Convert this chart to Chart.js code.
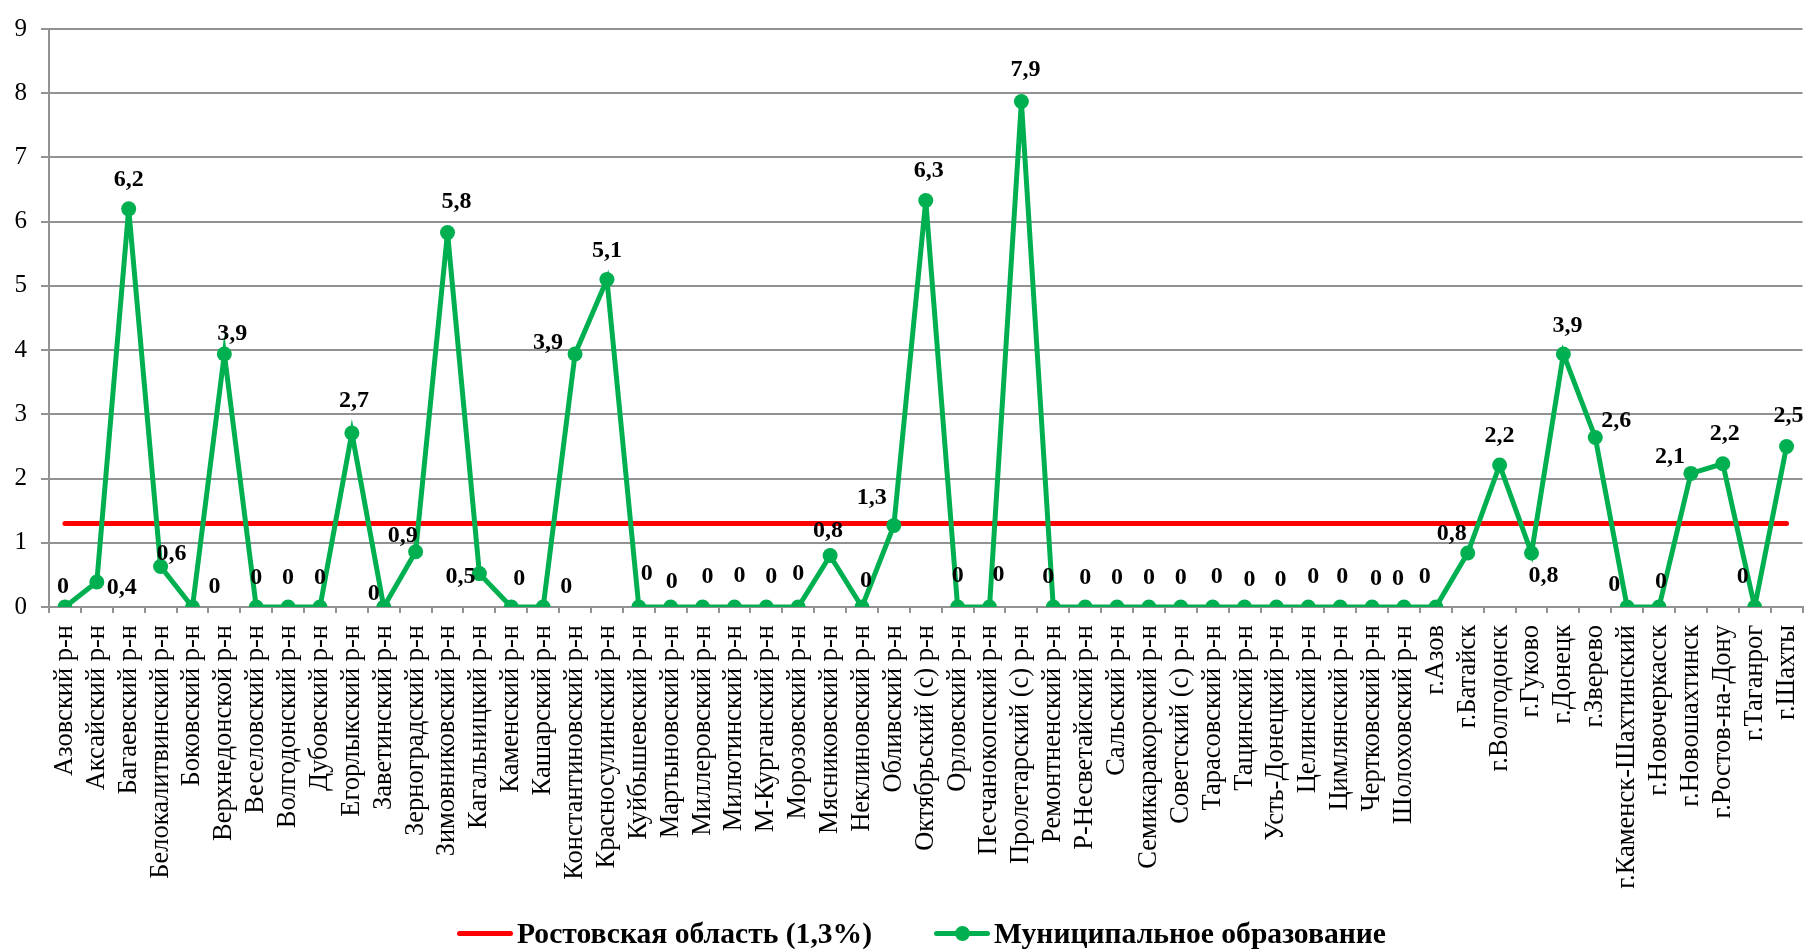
<!DOCTYPE html>
<html lang="ru">
<head>
<meta charset="utf-8">
<title>Муниципальное образование — Ростовская область</title>
<script src="https://cdn.jsdelivr.net/npm/chart.js@4/dist/chart.umd.min.js"></script>
<style>
  html, body { margin: 0; padding: 0; background: #fff; }
  #wrap { position: relative; width: 1810px; height: 951px; overflow: hidden; }
  #chart { position: absolute; left: 0; top: 0; }
  .legend-item {
    position: absolute; top: 918px; height: 30px; line-height: 30px;
    display: flex; align-items: center;
    font: bold 29.6px 'Liberation Serif', 'Times New Roman', serif; color: #000;
    white-space: nowrap;
  }
  .legend-line { position: relative; width: 56px; height: 5px; border-radius: 3px; margin-right: 4px; }
  .legend-line .dot {
    position: absolute; left: 21px; top: -5px; width: 15px; height: 15px;
    border-radius: 50%; background: #00b050;
  }
</style>
</head>
<body>
<div id="wrap">
  <canvas id="chart" width="1810" height="951"></canvas>
  <div class="legend-item" style="left:457px;">
    <span class="legend-line" style="background:#ff0000;"></span>Ростовская область (1,3%)
  </div>
  <div class="legend-item" style="left:934px;">
    <span class="legend-line" style="background:#00b050;"><span class="dot"></span></span>Муниципальное образование
  </div>
</div>
<script>
/* ── Data ── */

const categories = [
  'Азовский р-н', 'Аксайский р-н', 'Багаевский р-н', 'Белокалитвинский р-н', 'Боковский р-н',
  'Верхнедонской р-н', 'Веселовский р-н', 'Волгодонский р-н', 'Дубовский р-н', 'Егорлыкский р-н',
  'Заветинский р-н', 'Зерноградский р-н', 'Зимовниковский р-н', 'Кагальницкий р-н', 'Каменский р-н',
  'Кашарский р-н', 'Константиновский р-н', 'Красносулинский р-н', 'Куйбышевский р-н', 'Мартыновский р-н',
  'Миллеровский р-н', 'Милютинский р-н', 'М-Курганский р-н', 'Морозовский р-н', 'Мясниковский р-н',
  'Неклиновский р-н', 'Обливский р-н', 'Октябрьский (с) р-н', 'Орловский р-н', 'Песчанокопский р-н',
  'Пролетарский (с) р-н', 'Ремонтненский р-н', 'Р-Несветайский р-н', 'Сальский р-н', 'Семикаракорский р-н',
  'Советский (с) р-н', 'Тарасовский р-н', 'Тацинский р-н', 'Усть-Донецкий р-н', 'Целинский р-н',
  'Цимлянский р-н', 'Чертковский р-н', 'Шолоховский р-н', 'г.Азов', 'г.Батайск',
  'г.Волгодонск', 'г.Гуково', 'г.Донецк', 'г.Зверево', 'г.Каменск-Шахтинский',
  'г.Новочеркасск', 'г.Новошахтинск', 'г.Ростов-на-Дону', 'г.Таганрог', 'г.Шахты'
];

// Муниципальное образование, %
const municipalValues = [
  0, 0.39, 6.2, 0.63, 0,
  3.94, 0, 0, 0, 2.71,
  0, 0.86, 5.83, 0.52, 0,
  0, 3.94, 5.1, 0, 0,
  0, 0, 0, 0, 0.8,
  0, 1.27, 6.33, 0, 0,
  7.87, 0, 0, 0, 0,
  0, 0, 0, 0, 0,
  0, 0, 0, 0, 0.84,
  2.21, 0.84, 3.94, 2.64, 0,
  0, 2.08, 2.23, 0, 2.5
];

// Ростовская область (1,3%)
const regionValues = [
  1.3, 1.3, 1.3, 1.3, 1.3, 1.3, 1.3, 1.3, 1.3, 1.3, 1.3,
  1.3, 1.3, 1.3, 1.3, 1.3, 1.3, 1.3, 1.3, 1.3, 1.3, 1.3,
  1.3, 1.3, 1.3, 1.3, 1.3, 1.3, 1.3, 1.3, 1.3, 1.3, 1.3,
  1.3, 1.3, 1.3, 1.3, 1.3, 1.3, 1.3, 1.3, 1.3, 1.3, 1.3,
  1.3, 1.3, 1.3, 1.3, 1.3, 1.3, 1.3, 1.3, 1.3, 1.3, 1.3
];

const yTicks = [0, 1, 2, 3, 4, 5, 6, 7, 8, 9];

/* ── Style ── */

const SERIF = "'Liberation Serif', 'Times New Roman', serif";
const GRID = '#929292';
const GREEN = '#00b050';
const RED = '#ff0000';

// where each value label sits relative to its point (px), default above
const labelShift = {
  0: [-2, -20], 1: [25, 6], 3: [11, -13], 4: [22, -20], 5: [8, -20],
  9: [2, -32], 10: [-10, -13], 11: [-13, -16], 12: [9, -31], 13: [-19, 3],
  14: [8, -28], 15: [23, -20], 16: [-27, -11], 18: [8, -33], 19: [1, -25],
  20: [5, -30], 21: [5, -31], 22: [5, -30], 23: [0, -33], 24: [-2, -25],
  25: [4, -26], 26: [-22, -28], 27: [3, -30], 28: [0, -31], 29: [9, -32],
  30: [4, -32], 31: [-5, -30], 36: [4, -30], 37: [5, -27], 38: [4, -27],
  39: [5, -30], 40: [2, -30], 41: [4, -28], 42: [-6, -28], 43: [-11, -30],
  44: [-16, -19], 46: [12, 23], 47: [4, -28], 48: [21, -17], 49: [-13, -22],
  50: [2, -25], 51: [-21, -17], 52: [2, -30], 53: [-12, -30], 54: [2, -31]
};

const fmt = v => v === 0 ? '0' : v.toFixed(1).replace('.', ',');

// ── Value labels ──

const valueLabels = {
  id: 'valueLabels',
  afterDatasetsDraw(chart) {
    const meta = chart.getDatasetMeta(0);
    const ctx = chart.ctx;
    ctx.save();
    ctx.font = `bold 24px ${SERIF}`;
    ctx.fillStyle = '#000';
    ctx.textAlign = 'center';
    ctx.textBaseline = 'middle';
    meta.data.forEach((pt, i) => {
      const [dx, dy] = labelShift[i] || [0, -29];
      ctx.fillText(fmt(municipalValues[i]), pt.x + dx, pt.y + dy);
    });
    ctx.restore();
  }
};

// ── Chart ──

new Chart(document.getElementById('chart'), {
  type: 'line',
  data: {
    labels: categories,
    datasets: [
      {
        label: 'Муниципальное образование',
        data: municipalValues,
        order: 0,
        borderColor: GREEN,
        backgroundColor: GREEN,
        borderWidth: 5,
        pointRadius: 7.5,
        pointBackgroundColor: GREEN,
        pointBorderWidth: 0,
        tension: 0
      },
      {
        label: 'Ростовская область (1,3%)',
        data: regionValues,
        order: 1,
        borderColor: RED,
        borderWidth: 5,
        borderCapStyle: 'round',
        pointRadius: 0,
        tension: 0
      }
    ]
  },
  options: {
    responsive: false,
    devicePixelRatio: 1,
    animation: false,
    layout: { padding: { top: 21, right: 2, left: 0, bottom: 0 } },
    plugins: { legend: { display: false }, tooltip: { enabled: false } },
    scales: {
      x: {
        type: 'category',
        offset: true,
        afterFit: s => { s.height = 344; s.paddingLeft = 0; s.paddingRight = 0; },
        grid: { display: true, drawOnChartArea: false, offset: true, tickLength: 6, color: GRID, lineWidth: 2 },
        border: { display: true, color: GRID, width: 2 },
        ticks: {
          autoSkip: false, maxRotation: 90, minRotation: 90, padding: 12,
          color: '#000', font: { family: SERIF, size: 26.5 }
        }
      },
      y: {
        min: 0, max: 9,
        afterFit: s => { s.width = 49; },
        afterBuildTicks: s => { s.ticks = yTicks.map(v => ({ value: v })); },
        grid: { color: GRID, lineWidth: 2, tickLength: 8 },
        border: { display: true, color: GRID, width: 2 },
        ticks: { padding: 14, color: '#000', font: { family: SERIF, size: 25 } }
      }
    }
  },
  plugins: [valueLabels]
});
</script>
</body>
</html>
